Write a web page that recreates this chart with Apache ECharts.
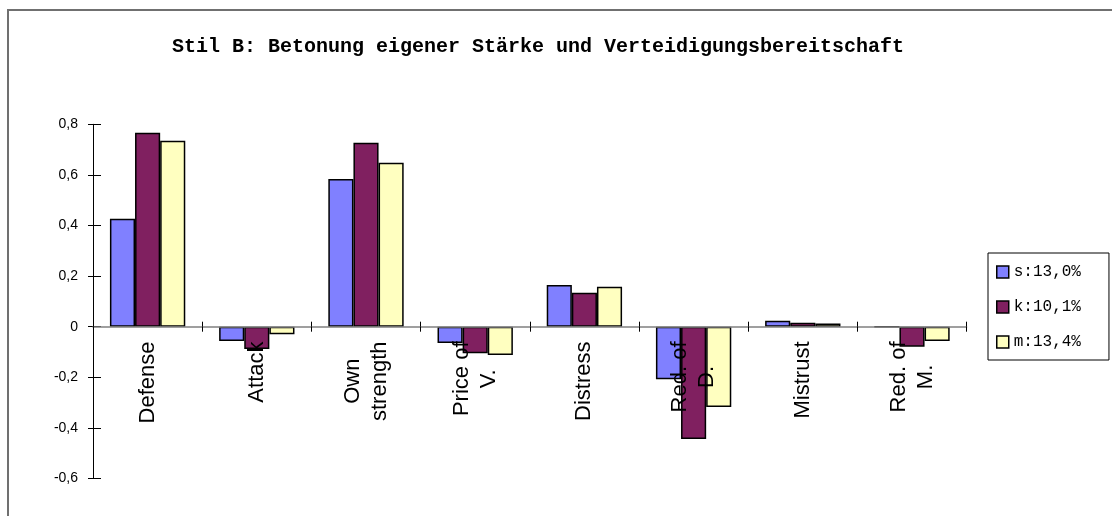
<!DOCTYPE html>
<html>
<head>
<meta charset="utf-8">
<script src="https://cdn.jsdelivr.net/npm/echarts@6/dist/echarts.min.js"></script>
<style>
  html, body { margin: 0; padding: 0; background: #fff; }
  #chart { width: 1112px; height: 516px; }
</style>
</head>
<body>
<div id="chart"></div>
<script>
// Kategorien (x-Achse)
const categories = ["Defense", "Attack", "Own\nstrength", "Price of\nV.", "Distress", "Red. of\nD.", "Mistrust", "Red. of\nM."];
// Legenden-Namen
const seriesNames = ["s:13,0%", "k:10,1%", "m:13,4%"];
// Werte je Gruppe
const sValues = [0.427, -0.057, 0.584, -0.064, 0.165, -0.208, 0.024, 0];
const kValues = [0.767, -0.088, 0.727, -0.105, 0.134, -0.444, 0.016, -0.079];
const mValues = [0.735, -0.030, 0.648, -0.112, 0.158, -0.317, 0.013, -0.057];
// y-Achse
const yTicks = [-0.6, -0.4, -0.2, 0, 0.2, 0.4, 0.6, 0.8];
const yTickLabels = ["-0,6", "-0,4", "-0,2", "0", "0,2", "0,4", "0,6", "0,8"];

const colors = ["#8080ff", "#802060", "#ffffc0"];

const chart = echarts.init(document.getElementById("chart"));

function yLabel(v) {
  for (let i = 0; i < yTicks.length; i++) {
    if (Math.abs(yTicks[i] - v) < 1e-6) return yTickLabels[i];
  }
  return "";
}

function bar(name, data, color) {
  return {
    name: name,
    type: "bar",
    data: data,
    barGap: "0%",
    barCategoryGap: "31%",
    itemStyle: { color: color, borderColor: "#000", borderWidth: 1.5 },
    emphasis: { disabled: true },
  };
}

// Beschriftungen sollen direkt unter der Nulllinie stehen (Gitter unten bei -0,6)
const labelMargin = -137;

const option = {
  animation: false,
  graphic: [
    {
      type: "rect",
      shape: { x: 8, y: 10, width: 1200, height: 600 },
      style: { fill: "none", stroke: "#707070", lineWidth: 2 },
    },
    {
      type: "text",
      x: 538,
      y: 47,
      style: {
        text: "Stil B: Betonung eigener Stärke und Verteidigungsbereitschaft",
        fontFamily: "Liberation Mono",
        fontWeight: "bold",
        fontSize: 20,
        fill: "#000",
        align: "center",
        verticalAlign: "middle",
      },
    },
  ],
  legend: {
    orient: "vertical",
    left: 988,
    top: 253,
    itemWidth: 12,
    itemHeight: 12,
    itemGap: 19,
    padding: [11, 28, 10, 8],
    borderColor: "#000",
    borderWidth: 1,
    icon: "rect",
    itemStyle: { borderColor: "#000", borderWidth: 1.5 },
    textStyle: { fontFamily: "Liberation Mono", fontSize: 16, color: "#000" },
    data: seriesNames,
  },
  grid: { left: 93, right: 145.4, top: 124.3, bottom: 37.5, outerBoundsMode: "none", containLabel: false },
  xAxis: [
    {
      type: "category",
      z: 10,
      data: categories,
      axisLine: { onZero: true, lineStyle: { color: "#808080", width: 1.5 } },
      axisTick: { show: true, length: 5, lineStyle: { color: "#000" } },
      axisLabel: {
        rotate: 90,
        margin: labelMargin,
        interval: 0,
        formatter: (v) => v.split("\n").map((s) => "{c|" + s + "}").join("\n"),
        rich: {
          c: {
            align: "center",
            fontFamily: "Liberation Sans Narrow, Arial Narrow, Liberation Sans",
            fontSize: 22,
            lineHeight: 27,
            color: "#000",
          },
        },
      },
      splitLine: { show: false },
    },
    {
      type: "category",
      z: 10,
      data: categories,
      position: "bottom",
      axisLine: { show: false, onZero: true },
      axisTick: { show: true, inside: true, length: 5, lineStyle: { color: "#000" } },
      axisLabel: { show: false },
    },
  ],
  yAxis: [
    {
      type: "value",
      min: -0.6,
      max: 0.8,
      interval: 0.2,
      axisLine: { show: true, lineStyle: { color: "#000", width: 1 } },
      axisTick: { show: true, length: 5, lineStyle: { color: "#000" } },
      axisLabel: {
        margin: 15,
        formatter: yLabel,
        fontFamily: "Liberation Sans",
        fontSize: 14,
        color: "#000",
      },
      splitLine: { show: false },
    },
    {
      type: "value",
      position: "left",
      min: -0.6,
      max: 0.8,
      interval: 0.2,
      axisLine: { show: false },
      axisTick: { show: true, inside: true, length: 8, lineStyle: { color: "#000" } },
      axisLabel: { show: false },
      splitLine: { show: false },
    },
  ],
  series: [
    bar(seriesNames[0], sValues, colors[0]),
    bar(seriesNames[1], kValues, colors[1]),
    bar(seriesNames[2], mValues, colors[2]),
  ],
};

chart.setOption(option);
</script>
</body>
</html>
